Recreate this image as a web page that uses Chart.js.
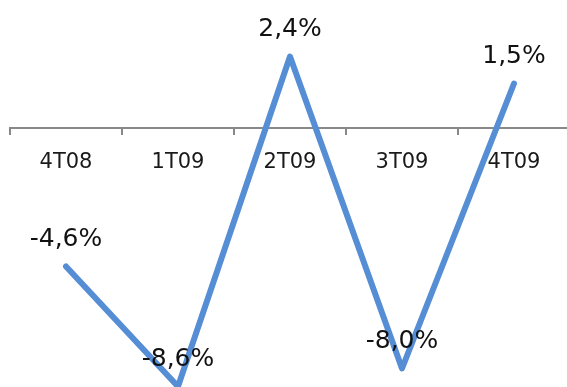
<!DOCTYPE html>
<html>
<head>
<meta charset="utf-8">
<style>
  html, body { margin: 0; padding: 0; background: #fff; overflow: hidden; }
  #wrap { width: 570px; height: 387px; }
</style>
<script src="https://cdn.jsdelivr.net/npm/chart.js@4/dist/chart.umd.min.js"></script>
</head>
<body>
<div id="wrap"><canvas id="c" width="570" height="387"></canvas></div>
<script>
// Quarterly variation, in percent
const quarters = ['4T08', '1T09', '2T09', '3T09', '4T09'];
const variation = [-4.6, -8.6, 2.4, -8.0, 1.5];

const fmt = v => v.toFixed(1).replace('.', ',') + '%';

// Writes each value above its point
const valueLabels = {
  id: 'valueLabels',
  afterDatasetsDraw(chart) {
    const ctx = chart.ctx;
    const meta = chart.getDatasetMeta(0);
    ctx.save();
    ctx.font = '25px "DejaVu Sans"';
    ctx.fillStyle = '#111';
    ctx.textAlign = 'center';
    ctx.textBaseline = 'middle';
    meta.data.forEach((pt, i) => {
      ctx.fillText(fmt(variation[i]), pt.x, pt.y - 27);
    });
    ctx.restore();
  }
};

new Chart(document.getElementById('c'), {
  type: 'line',
  data: {
    labels: quarters,
    datasets: [{
      data: variation,
      borderColor: '#558ED5',
      borderWidth: 6,
      borderCapStyle: 'round',
      borderJoinStyle: 'round',
      pointRadius: 0,
      tension: 0,
      clip: false
    }]
  },
  options: {
    responsive: false,
    animation: false,
    layout: { padding: { left: 10, right: 0, top: 0, bottom: 0 } },
    plugins: { legend: { display: false }, tooltip: { enabled: false } },
    scales: {
      x: {
        position: { y: 0 },
        offset: true,
        grid: { drawOnChartArea: false, drawTicks: true, tickLength: 6, offset: true, color: '#888', lineWidth: 2 },
        border: { color: '#888', width: 2 },
        ticks: { color: '#1a1a1a', font: { family: 'DejaVu Sans', size: 21 }, padding: 15, maxRotation: 0 }
      },
      y: {
        display: false,
        min: -8.617,
        max: 4.283
      }
    }
  },
  plugins: [valueLabels]
});
</script>
</body>
</html>
